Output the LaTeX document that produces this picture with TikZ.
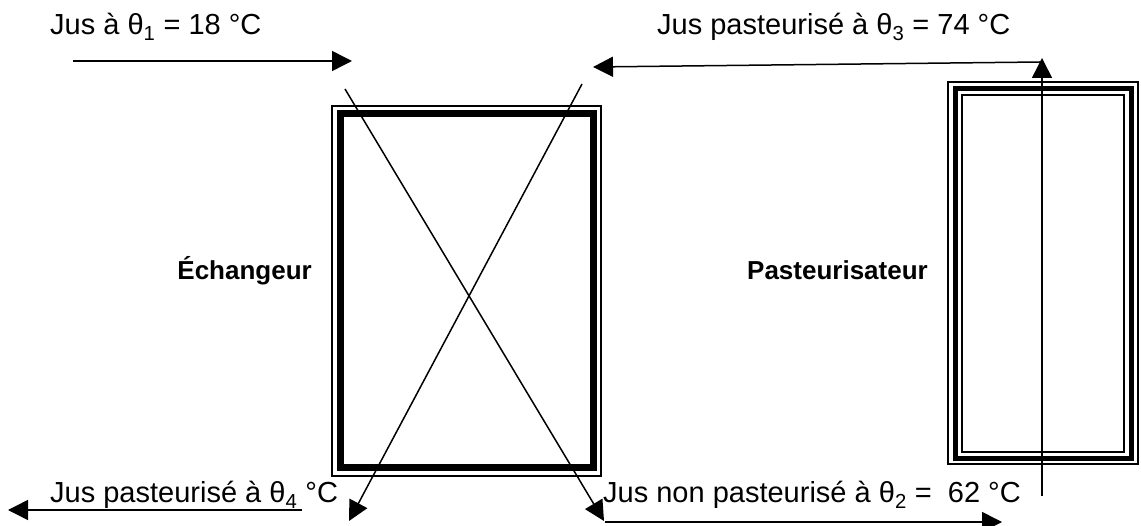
\documentclass[tikz,border=0pt]{standalone}
\usepackage{fontspec}
\setmainfont{Liberation Sans}
\usetikzlibrary{arrows.meta}
\begin{document}
\begin{tikzpicture}[x=1pt,y=-1pt,
  flow/.style={line width=1.5pt,-{Triangle[length=20pt,width=20pt]}},
  lbl/.style={anchor=base west,inner sep=0pt,font=\fontsize{29}{34}\selectfont},
  blbl/.style={anchor=base east,inner sep=0pt,font=\fontsize{26}{31}\selectfont\bfseries},
  thinframe/.style={line width=1.2pt},
  heavyframe/.style={line width=7pt},
  midframe/.style={line width=5pt}]
\useasboundingbox (0,0) rectangle (1141,526);
% Echangeur
\draw[thinframe] (332,106) rectangle (601,476);
\draw[heavyframe] (340,114) rectangle (593,468);
\node[blbl] (ech) at (312,280) {Échangeur};
% Pasteurisateur
\draw[thinframe] (948,82) rectangle (1138,464);
\draw[midframe] (955,88.5) rectangle (1131,458.5);
\draw[thinframe] (962,95) rectangle (1124,452);
\node[blbl] (past) at (928,280) {Pasteurisateur};
% labels
\node[lbl] (t1) at (50,35) {Jus à θ\textsubscript{1} = 18 °C};
\node[lbl] (t3) at (657,35) {Jus pasteurisé à θ\textsubscript{3} = 74 °C};
\node[lbl] (t4) at (50,503) {Jus pasteurisé à θ\textsubscript{4} °C};
\node[lbl] (t2) at (603,503) {Jus non pasteurisé à θ\textsubscript{2} = \ 62 °C};
% coordinates
\coordinate (a1) at (73,61);
\coordinate (a2) at (352,61);
\coordinate (b1) at (1040,62);
\coordinate (b2) at (593,67);
\coordinate (v1) at (1042,496);
\coordinate (v2) at (1042,58);
\coordinate (cA1) at (345,89);
\coordinate (cA2) at (604,521);
\coordinate (cB1) at (582,84);
\coordinate (cB2) at (349,521);
\coordinate (d1) at (302,510);
\coordinate (d2) at (8,510);
\coordinate (e1) at (605,522);
\coordinate (e2) at (1002,522);
% connectors
\draw[flow] (a1) -- (a2);
\draw[flow] (b1) -- (b2);
\draw[flow] (v1) -- (v2);
\draw[flow] (cA1) -- (cA2);
\draw[flow] (cB1) -- (cB2);
\draw[flow] (d1) -- (d2);
\draw[flow] (e1) -- (e2);
\end{tikzpicture}
\end{document}
